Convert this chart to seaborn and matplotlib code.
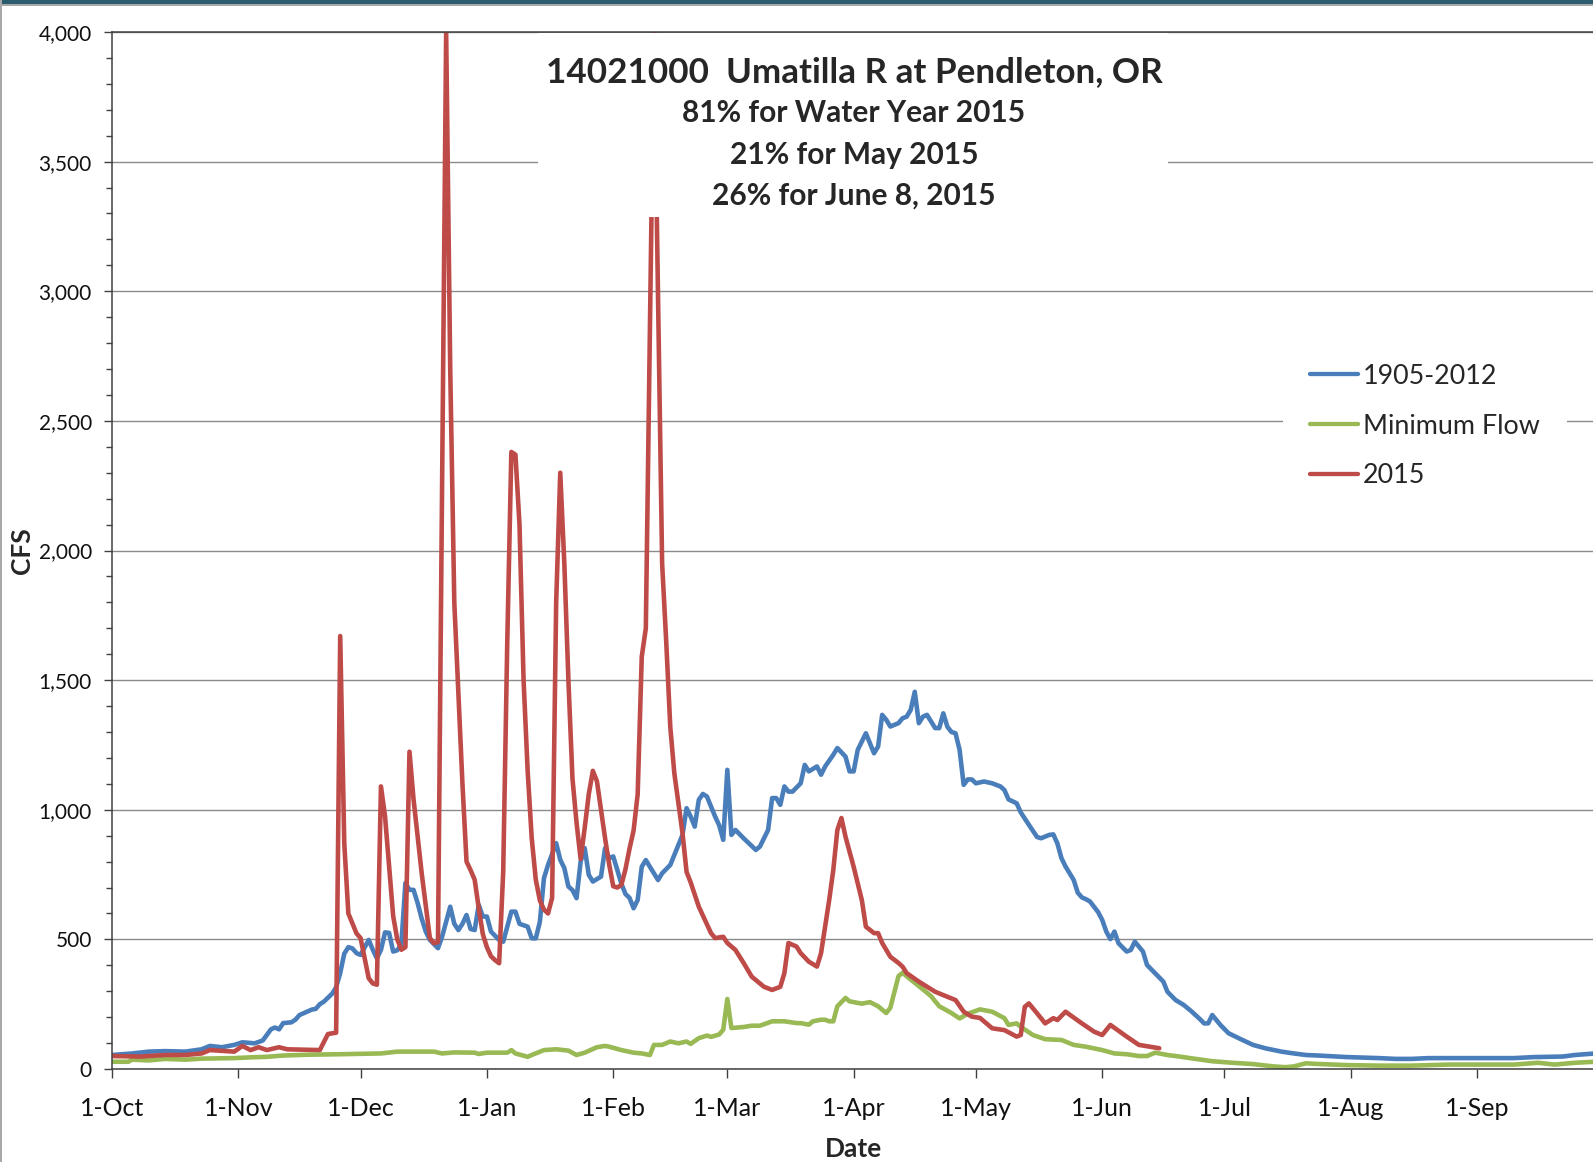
import pandas as pd
import seaborn as sns
import matplotlib.pyplot as plt
import matplotlib.dates as mdates
from matplotlib.ticker import MultipleLocator, FuncFormatter
from matplotlib.patches import Rectangle
from matplotlib.lines import Line2D

# water year starts 1-Oct-2014, x values are days since that date
start = pd.Timestamp('2014-10-01')

# 1905-2012 average daily flow (day, cfs)
avg_day = [0, 5, 9, 13, 18, 22, 24, 27, 30, 32, 35, 37, 39, 40, 41, 42, 44, 45, 46, 48,
           49, 50, 51, 52, 54, 55, 56, 57, 58, 59, 60, 61, 63, 64, 65, 66, 67, 68, 69, 70,
           71, 72, 73, 74, 75, 76, 77, 78, 80, 81, 82, 83, 84, 85, 86, 87, 88, 89, 90, 91,
           92, 93, 95, 96, 98, 99, 100, 102, 103, 104, 105, 106, 107, 109, 110, 111, 112, 113, 114, 115,
           116, 117, 118, 120, 121, 122, 123, 125, 126, 127, 128, 129, 130, 131, 132, 134, 135, 137, 138, 139,
           140, 141, 142, 143, 144, 145, 146, 148, 149, 150, 151, 152, 153, 155, 157, 158, 159, 161, 162, 163,
           164, 165, 166, 167, 169, 170, 171, 173, 174, 175, 177, 178, 180, 181, 182, 183, 185, 186, 187, 188,
           189, 190, 191, 193, 194, 195, 196, 197, 198, 199, 200, 202, 203, 204, 205, 206, 207, 208, 209, 210,
           211, 212, 214, 216, 218, 219, 220, 222, 223, 225, 227, 228, 230, 231, 232, 233, 234, 235, 236, 237,
           238, 239, 240, 242, 243, 244, 245, 246, 247, 249, 250, 251, 253, 254, 256, 258, 259, 261, 263, 265,
           267, 268, 269, 270, 272, 274, 277, 280, 283, 287, 290, 293, 296, 303, 311, 315, 319, 323, 336, 344,
           349, 356, 359, 364]
avg_cfs = [54, 60, 67, 69, 67, 76, 89, 84, 93, 103, 99, 110, 153, 160, 153, 177, 180, 190, 208, 222,
           229, 232, 250, 260, 290, 315, 370, 445, 470, 465, 447, 440, 498, 460, 427, 459, 527, 525, 453, 458,
           480, 717, 691, 691, 640, 580, 530, 498, 466, 510, 568, 626, 560, 536, 560, 594, 540, 536, 633, 588,
           588, 530, 498, 491, 607, 607, 560, 549, 504, 504, 568, 736, 787, 871, 807, 775, 704, 690, 659, 800,
           852, 749, 723, 742, 852, 813, 820, 715, 675, 660, 620, 652, 780, 806, 780, 729, 755, 787, 826, 864,
           903, 1006, 974, 935, 1038, 1061, 1051, 974, 940, 884, 1154, 903, 922, 890, 860, 845, 858, 922, 1045, 1045,
           1019, 1090, 1070, 1070, 1102, 1173, 1148, 1167, 1135, 1167, 1212, 1238, 1205, 1148, 1148, 1231, 1295, 1257, 1218, 1244,
           1366, 1347, 1321, 1334, 1353, 1359, 1385, 1455, 1334, 1359, 1366, 1315, 1315, 1372, 1320, 1300, 1295, 1231, 1096, 1117,
           1117, 1102, 1109, 1102, 1090, 1076, 1040, 1025, 990, 942, 895, 890, 903, 905, 870, 813, 781, 755, 729, 680,
           662, 655, 646, 605, 575, 530, 501, 530, 485, 453, 459, 491, 453, 401, 369, 337, 298, 266, 247, 221,
           192, 176, 176, 208, 170, 138, 115, 93, 80, 67, 60, 54, 52, 46, 42, 39, 39, 42, 42, 42,
           46, 48, 54, 60]

# minimum flow of record (day, cfs)
min_day = [0, 4, 5, 9, 13, 18, 22, 30, 34, 38, 42, 48, 56, 66, 70, 79, 81, 84, 89, 90,
           92, 97, 98, 99, 102, 103, 106, 109, 112, 114, 116, 119, 121, 122, 125, 128, 130, 132, 133, 135,
           137, 139, 141, 142, 144, 146, 147, 149, 150, 151, 152, 155, 157, 159, 162, 165, 168, 169, 171, 172,
           174, 175, 176, 177, 178, 180, 181, 183, 184, 186, 188, 190, 191, 193, 194, 196, 198, 201, 203, 206,
           208, 210, 213, 216, 219, 220, 222, 223, 226, 229, 233, 236, 239, 243, 246, 249, 252, 254, 256, 259,
           262, 265, 270, 275, 280, 285, 288, 290, 293, 295, 303, 311, 319, 328, 344, 350, 354, 359, 364]
min_cfs = [28, 28, 36, 33, 39, 36, 40, 42, 45, 47, 52, 55, 57, 60, 67, 67, 60, 64, 63, 58,
           63, 63, 73, 60, 47, 54, 73, 76, 71, 54, 63, 84, 89, 86, 73, 63, 60, 54, 93, 93,
           106, 99, 106, 97, 119, 129, 124, 133, 152, 270, 158, 162, 167, 167, 184, 184, 177, 177, 171, 184,
           190, 190, 184, 184, 242, 274, 261, 255, 252, 258, 242, 216, 236, 358, 371, 345, 320, 281, 242, 216,
           195, 213, 230, 221, 196, 170, 176, 163, 131, 115, 112, 93, 86, 73, 60, 57, 50, 50, 63, 54,
           48, 41, 30, 24, 19, 10, 7, 10, 22, 20, 15, 13, 13, 17, 17, 24, 17, 24, 28]

# water year 2015 daily flow (day, cfs)
wy2015_day = [0, 7, 13, 18, 22, 24, 30, 32, 34, 36, 38, 41, 43, 51, 53, 55, 56, 57, 58, 60,
              61, 63, 64, 65, 66, 67, 69, 70, 71, 72, 73, 74, 76, 78, 79, 80, 82, 83, 84, 85,
              86, 87, 88, 89, 90, 91, 92, 93, 94, 95, 96, 97, 98, 99, 100, 101, 102, 103, 104, 105,
              106, 107, 108, 109, 110, 111, 112, 113, 114, 115, 116, 117, 118, 119, 120, 121, 122, 123, 124, 125,
              126, 127, 128, 129, 130, 131, 133, 135, 136, 137, 138, 140, 141, 142, 144, 147, 148, 150, 151, 153,
              155, 157, 160, 162, 164, 165, 166, 168, 169, 171, 173, 174, 175, 176, 177, 178, 179, 180, 182, 184,
              185, 187, 188, 189, 191, 193, 194, 195, 198, 202, 204, 207, 209, 211, 213, 216, 219, 222, 223, 224,
              225, 227, 229, 231, 232, 234, 238, 241, 243, 245, 249, 252, 257]
wy2015_cfs = [50, 48, 54, 54, 60, 73, 67, 89, 73, 84, 73, 84, 76, 73, 135, 140, 1670, 870, 600, 523,
              505, 350, 330, 325, 1090, 975, 590, 500, 460, 470, 1224, 1040, 755, 505, 485, 490, 4000, 2700, 1800, 1450,
              1100, 800, 767, 730, 620, 520, 470, 435, 420, 408, 760, 1650, 2380, 2370, 2100, 1500, 1150, 890, 730, 650,
              615, 600, 660, 1800, 2300, 1950, 1500, 1120, 950, 810, 930, 1060, 1150, 1110, 1000, 890, 790, 705, 700, 710,
              770, 850, 920, 1060, 1590, 1700, 4000, 1950, 1650, 1320, 1140, 910, 760, 720, 626, 524, 505, 510, 486, 459,
              409, 356, 317, 305, 317, 370, 486, 472, 447, 414, 395, 447, 549, 652, 767, 922, 968, 896, 780, 652,
              549, 524, 524, 486, 433, 409, 395, 370, 337, 298, 285, 266, 221, 202, 197, 157, 150, 125, 131, 240,
              253, 215, 176, 196, 189, 221, 176, 144, 131, 170, 125, 93, 80]

series_names = ['1905-2012', 'Minimum Flow', '2015']
series_colors = ['#4A7EBB', '#98B954', '#BE4B48']

title_main = '14021000  Umatilla R at Pendleton, OR'
title_sub = ['81% for Water Year 2015', '21% for May 2015', '26% for June 8, 2015']

# long table for seaborn
frames = []
for name, d, v in zip(series_names, [avg_day, min_day, wy2015_day], [avg_cfs, min_cfs, wy2015_cfs]):
    frames.append(pd.DataFrame({'Date': start + pd.to_timedelta(d, unit='D'), 'CFS': v, 'Series': name}))
df = pd.concat(frames, ignore_index=True)

sns.set_style('white')
plt.rcParams['font.family'] = ['Lato', 'DejaVu Sans']

W, H = 1593, 1162
fig = plt.figure(figsize=(W / 100, H / 100), dpi=100)
ax = fig.add_axes([112 / W, (H - 1069) / H, 1483.3 / W, 1037 / H])

sns.lineplot(data=df, x='Date', y='CFS', hue='Series', hue_order=series_names,
             palette=series_colors, linewidth=3.3, estimator=None, legend=False, ax=ax)
for ln in ax.lines:
    ln.set_solid_joinstyle('round')
    ln.set_solid_capstyle('round')

ax.set_xlim(start, start + pd.Timedelta(days=364))
ax.set_ylim(0, 4000)

# axes look
ax.set_axisbelow(True)
ax.yaxis.grid(True, color='#8A8A8A', linewidth=1.0)
ax.xaxis.grid(False)
ax.spines['right'].set_visible(False)
for s in ['top', 'left', 'bottom']:
    ax.spines[s].set_color('#404040')
    ax.spines[s].set_linewidth(1.1)

ax.xaxis.set_major_locator(mdates.MonthLocator())
ax.xaxis.set_major_formatter(FuncFormatter(
    lambda x, pos: f"{mdates.num2date(x).day}-{mdates.num2date(x):%b}"))
ax.yaxis.set_major_locator(MultipleLocator(500))
ax.yaxis.set_minor_locator(MultipleLocator(100))
ax.yaxis.set_major_formatter(FuncFormatter(lambda y, pos: f"{y:,.0f}"))

ax.tick_params(axis='x', which='major', bottom=True, direction='out', length=6.5, width=1,
               color='#404040', labelsize=18, labelcolor='#111111', pad=13.5)
ax.tick_params(axis='y', which='major', left=True, direction='out', length=6, width=1,
               color='#404040', labelsize=15, labelcolor='#111111', pad=8.5)
ax.tick_params(axis='y', which='minor', left=True, direction='out', length=4, width=1,
               color='#404040')

ax.set_xlabel('Date', fontsize=19, fontweight='bold')
ax.set_ylabel('CFS', fontsize=19, fontweight='bold')
ax.xaxis.set_label_coords(0.5, -0.0656)
ax.yaxis.set_label_coords(-0.0526, 0.5)

# legend with white box over the grid
handles = [Line2D([], [], color=c, linewidth=3.1, solid_capstyle='round') for c in series_colors]
ax.legend(handles, series_names, loc='center left', bbox_to_anchor=(0.7895, 0.62),
          fontsize=19.4, frameon=True, facecolor='white', edgecolor='none', framealpha=1,
          fancybox=False, handlelength=1.78, handletextpad=0.18, borderpad=1.0,
          labelspacing=0.92, borderaxespad=0)

# title block with white background
fig.add_artist(Rectangle((538 / W, 1 - 217 / H), 630 / W, 184 / H, transform=fig.transFigure,
                         facecolor='white', edgecolor='none', zorder=3))
fig.text(854 / W, 1 - 81.7 / H, title_main, ha='center', va='baseline',
         fontsize=25.2, fontweight='bold', zorder=4)
for txt, yb in zip(title_sub, [121.7, 164, 205]):
    fig.text(854 / W, 1 - yb / H, txt, ha='center', va='baseline',
             fontsize=21.5, fontweight='bold', zorder=4)

# screenshot frame
fig.add_artist(Rectangle((0, 1 - 4 / H), 1, 4 / H, transform=fig.transFigure,
                         facecolor='#2B5D6E', edgecolor='none', zorder=10))
fig.add_artist(Rectangle((0, 1 - 6 / H), 1, 2 / H, transform=fig.transFigure,
                         facecolor='#A8A8A8', edgecolor='none', zorder=10))
fig.add_artist(Rectangle((0, 0), 1.5 / W, 1, transform=fig.transFigure,
                         facecolor='#A8A8A8', edgecolor='none', zorder=10))

fig.savefig('out.png', dpi=100)
